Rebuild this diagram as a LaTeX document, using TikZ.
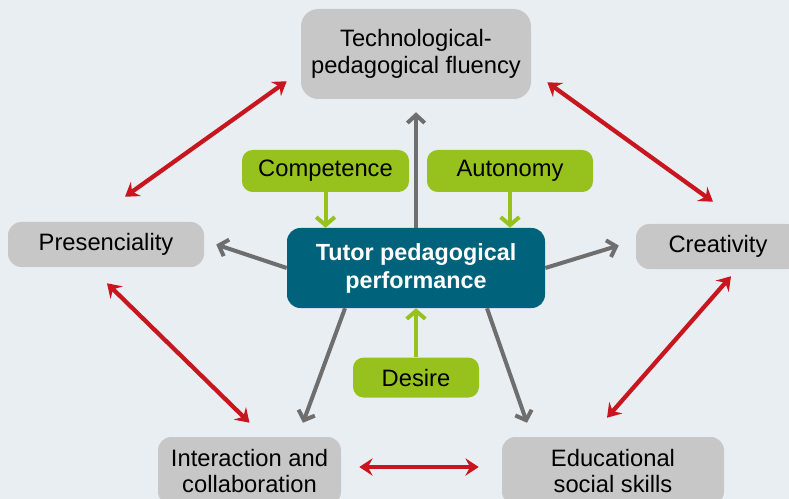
\documentclass[tikz,border=0pt]{standalone}
\usepackage{fontspec}
\setmainfont{Liberation Sans}
\usetikzlibrary{positioning, calc, arrows.meta}
\definecolor{paper}{HTML}{E9EEF3}
\definecolor{boxgrey}{HTML}{C7C7C7}
\definecolor{tutorteal}{HTML}{00637B}
\definecolor{leaf}{HTML}{97C21E}
\definecolor{linkred}{HTML}{C8161E}
\definecolor{spoke}{HTML}{6E6E6E}
\tikzset{
    box/.style = {inner sep=0pt, align=center, rounded corners=10pt,
        font=\fontsize{17.8}{20}\selectfont},
    side/.style = {box, fill=boxgrey},
    core/.style = {box, fill=tutorteal, text=white,
        font=\bfseries\fontsize{17.5}{21}\selectfont},
    factor/.style = {box, fill=leaf, rounded corners=8pt},
    link/.style = {{Stealth[length=10pt,width=13pt,inset=3.5pt]}-{Stealth[length=10pt,width=13pt,inset=3.5pt]},
        draw=linkred, line width=3.2pt},
    spokeline/.style = {-{Straight Barb[length=6pt,width=13pt]}, draw=spoke, line width=3pt},
    feed/.style = {-{Straight Barb[length=6pt,width=14pt]}, draw=leaf, line width=3pt},
}

\begin{document}
\begin{tikzpicture}[x=0.75pt, y=-0.75pt]
    \useasboundingbox (0,0) rectangle (789,499);
    \fill[paper] (0,0) rectangle (789,499);
    \clip (0,0) rectangle (789,499);

    \node [core, minimum width=193.5pt, minimum height=60pt] (tutor) at (416,268)
        {Tutor pedagogical\\performance};
    \node [side, minimum width=172.5pt, minimum height=67.5pt, rounded corners=13pt] (fluency) at (416,54)
        {Technological-\\pedagogical fluency};
    \node [side, minimum width=147pt, minimum height=33.75pt] (presence) at (106,244.5) {Presenciality};
    \node [side, minimum width=123pt, minimum height=33.75pt] (creativity) at (718,246.5) {Creativity};
    \node [side, minimum width=137.25pt, minimum height=51pt] (interact) at (249.5,471)
        {Interaction and\\collaboration};
    \node [side, minimum width=166.5pt, minimum height=51pt] (educate) at (613,471)
        {Educational\\social skills};
    \node [factor, minimum width=125.25pt, minimum height=31.5pt] (competence) at (325.5,171) {Competence};
    \node [factor, minimum width=124.5pt, minimum height=31.5pt] (autonomy) at (510,171) {Autonomy};
    \node [factor, minimum width=94.5pt, minimum height=30pt, below=36.75pt of tutor] (desire) {Desire};

    % green inputs
    \draw [feed] (competence.south) -- (competence |- tutor.north);
    \draw [feed] (autonomy.south) -- (autonomy |- tutor.north);
    \draw [feed] (desire.north) -- (desire |- tutor.south);

    % grey spokes
    \draw [spokeline] (tutor.north) -- ($(fluency.south)+(0,13)$);
    \draw [spokeline] (tutor.west) -- ($(presence.east)+(12,0)$);
    \draw [spokeline] (tutor.east) -- ($(creativity.west)+(-17,-1)$);
    \draw [spokeline] ($(tutor.south)+(-71,0)$) -- ($(interact.north)+(53.5,-14)$);
    \draw [spokeline] ($(tutor.south)+(71,0)$) -- ($(educate.north)+(-86,-14)$);

    % red links round the ring
    \draw [link] ($(fluency.south west)+(-14,-18)$) -- ($(presence.north)+(19,-25)$);
    \draw [link] ($(fluency.south east)+(16,-17)$) -- ($(creativity.north)+(-5,-22)$);
    \draw [link] ($(presence.south)+(1,16)$) -- ($(interact.north)+(0,-14)$);
    \draw [link] ($(creativity.south)+(13,7)$) -- ($(educate.north)+(-6,-19)$);
    \draw [link] ($(interact.east)+(18,-4)$) -- ($(educate.west)+(-23,-4)$);
\end{tikzpicture}
\end{document}
